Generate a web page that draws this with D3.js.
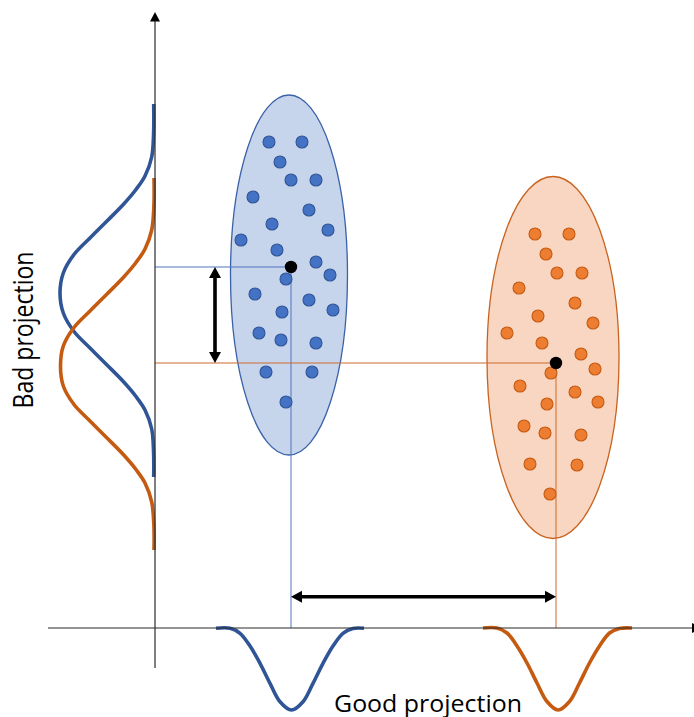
<!DOCTYPE html>
<html>
<head>
<meta charset="utf-8">
<script src="https://cdn.jsdelivr.net/npm/d3@7"></script>
<style>
  html, body { margin: 0; padding: 0; background: #ffffff; }
  svg { display: block; }
</style>
</head>
<body>
<script>
// ---------- DATA (chart units: origin at the axes crossing) ----------
const blueX = [11.4, 14.7, 12.5, 13.6, 16.1, 9.8, 15.4, 11.7, 17.3, 8.6, 12.2, 16.1,
               17.5, 13.1, 10.0, 15.4, 12.7, 17.8, 10.4, 12.6, 16.1, 11.1, 15.7, 13.1];
const blueY = [48.6, 48.6, 46.6, 44.8, 44.8, 43.1, 41.8, 40.4, 39.8, 38.8, 37.8, 36.6,
               35.3, 34.9, 33.4, 32.8, 31.6, 31.8, 29.5, 28.8, 28.5, 25.6, 25.6, 22.6];
const orangeX = [38.0, 41.4, 39.1, 40.2, 42.7, 36.4, 42.0, 38.3, 43.8, 35.2, 38.7, 42.6,
                 44.0, 39.6, 36.5, 42.0, 39.2, 44.3, 36.9, 39.0, 42.6, 37.5, 42.2, 39.5];
const orangeY = [39.4, 39.4, 37.4, 35.5, 35.5, 34.0, 32.5, 31.2, 30.5, 29.5, 28.5, 27.4,
                 25.9, 25.5, 24.2, 23.6, 22.4, 22.6, 20.2, 19.5, 19.3, 16.4, 16.3, 13.4];
const classNames = ["blue", "orange"];
const meanX = [13.6, 40.1];
const meanY = [36.1, 26.5];
// class ellipses: centre and half-spreads
const ellipseCX = [13.4, 39.8];
const ellipseCY = [35.3, 27.05];
const ellipseRX = [5.85, 6.6];
const ellipseRY = [18.0, 18.1];

// projected density on the vertical ("bad") axis: y position, density
const blueLeftY = [52.4, 49.5, 47.1, 45.2, 43.85, 42.35, 40.65, 39.0, 37.35, 35.5, 33.5,
                   31.5, 29.65, 28.0, 26.35, 24.65, 23.15, 21.8, 19.9, 17.5, 15.1];
const blueLeftD = [0.13, 0.14, 0.33, 1.0, 1.9, 3.17, 4.85, 6.5, 8.1, 9.17, 9.5,
                   9.17, 8.1, 6.5, 4.85, 3.17, 1.9, 1.0, 0.33, 0.14, 0.13];
const orangeLeftY = [45.0, 42.2, 39.8, 37.9, 36.55, 35.05, 33.35, 31.7, 30.05, 28.2, 26.2,
                     24.2, 22.35, 20.7, 19.05, 17.35, 15.85, 14.5, 12.6, 10.2, 7.8];
const orangeLeftD = [0.1, 0.11, 0.33, 1.0, 1.9, 3.17, 4.85, 6.5, 8.1, 9.17, 9.45,
                     9.17, 8.1, 6.5, 4.85, 3.17, 1.9, 1.0, 0.33, 0.11, 0.1];
// projected density on the horizontal ("good") axis: x position, density
const blueBottomX = [6.1, 7.5, 8.5, 9.5, 10.5, 11.5, 12.5, 13.65, 14.8, 15.8, 16.8, 17.8, 18.8, 19.8, 20.9];
const blueBottomD = [0.03, 0.03, 0.53, 1.8, 3.53, 5.53, 7.37, 8.2, 7.37, 5.53, 3.53, 1.8, 0.53, 0.05, 0.03];
const orangeBottomX = [32.8, 34.2, 35.2, 36.2, 37.2, 38.2, 39.2, 40.3, 41.45, 42.45, 43.45, 44.45, 45.45, 46.45, 47.7];
const orangeBottomD = [0.0, 0.0, 0.5, 1.8, 3.5, 5.5, 7.35, 8.2, 7.35, 5.5, 3.5, 1.8, 0.5, 0.05, 0.0];

const axisXRange = [-10.7, 54.65];
const axisYRange = [-4, 61.6];
const labelGood = "Good projection";
const labelBad = "Bad projection";

// ---------- STYLE ----------
const W = 694, H = 717;
const fillDot = ["#4472C4", "#ED7D31"];
const strokeDot = ["#2F5597", "#C55A11"];
const fillEll = ["#C6D4EC", "#F9D6C1"];
const strokeEll = ["#3A62A8", "#C9621E"];
const curveCol = ["#2F5597", "#C55A11"];
const guideCol = ["#4F76BE", "#CC6A2E"];

const x = d3.scaleLinear().domain([0, 50]).range([155, 655]);
const y = d3.scaleLinear().domain([0, 60]).range([628, 28]);

const svg = d3.select("body").append("svg").attr("width", W).attr("height", H);

// ellipses
classNames.forEach((c, i) => {
  svg.append("ellipse")
    .attr("cx", x(ellipseCX[i])).attr("cy", y(ellipseCY[i]))
    .attr("rx", x(ellipseCX[i] + ellipseRX[i]) - x(ellipseCX[i]))
    .attr("ry", y(ellipseCY[i]) - y(ellipseCY[i] + ellipseRY[i]))
    .attr("fill", fillEll[i]).attr("stroke", strokeEll[i]).attr("stroke-width", 1.3);
});

// guide lines from means to the axes
classNames.forEach((c, i) => {
  svg.append("line")
    .attr("x1", x(0)).attr("x2", x(meanX[i]))
    .attr("y1", y(meanY[i])).attr("y2", y(meanY[i]))
    .attr("stroke", guideCol[i]).attr("stroke-width", 1);
  svg.append("line")
    .attr("x1", x(meanX[i])).attr("x2", x(meanX[i]))
    .attr("y1", y(meanY[i])).attr("y2", y(0))
    .attr("stroke", guideCol[i]).attr("stroke-width", 1);
});

// points
const pts = [d3.zip(blueX, blueY), d3.zip(orangeX, orangeY)];
pts.forEach((p, i) => {
  svg.append("g").selectAll("circle").data(p).join("circle")
    .attr("cx", d => x(d[0])).attr("cy", d => y(d[1])).attr("r", 6)
    .attr("fill", fillDot[i]).attr("stroke", strokeDot[i]).attr("stroke-width", 1.1);
});

// means
classNames.forEach((c, i) => {
  svg.append("circle").attr("cx", x(meanX[i])).attr("cy", y(meanY[i])).attr("r", 6.2).attr("fill", "#000");
});

// density curves
const lineV = d3.line().x(d => x(-d[1])).y(d => y(d[0])).curve(d3.curveCatmullRom.alpha(0.5));
const lineH = d3.line().x(d => x(d[0])).y(d => y(-d[1])).curve(d3.curveCatmullRom.alpha(0.5));
const leftData = [d3.zip(blueLeftY, blueLeftD), d3.zip(orangeLeftY, orangeLeftD)];
const bottomData = [d3.zip(blueBottomX, blueBottomD), d3.zip(orangeBottomX, orangeBottomD)];
[0, 1].forEach(i => {
  svg.append("path").attr("d", lineV(leftData[i])).attr("fill", "none")
    .attr("stroke", curveCol[i]).attr("stroke-width", 3.6).attr("stroke-linecap", "butt");
  svg.append("path").attr("d", lineH(bottomData[i])).attr("fill", "none")
    .attr("stroke", curveCol[i]).attr("stroke-width", 3.6).attr("stroke-linecap", "butt");
});

// axes
const axisCol = "#2b2b2b";
svg.append("line").attr("x1", x(0)).attr("x2", x(0))
  .attr("y1", y(axisYRange[0])).attr("y2", y(axisYRange[1]) + 6)
  .attr("stroke", axisCol).attr("stroke-width", 1.2);
{
  const tx = x(0), ty = y(axisYRange[1]);
  svg.append("path").attr("d", `M${tx},${ty} L${tx - 5},${ty + 9.5} L${tx + 5},${ty + 9.5} Z`).attr("fill", "#000");
}
svg.append("line").attr("x1", x(axisXRange[0])).attr("x2", x(axisXRange[1]) - 6)
  .attr("y1", y(0)).attr("y2", y(0))
  .attr("stroke", axisCol).attr("stroke-width", 1.2);
{
  const tx = x(axisXRange[1]), ty = y(0);
  svg.append("path").attr("d", `M${tx},${ty} L${tx - 9.5},${ty - 5} L${tx - 9.5},${ty + 5} Z`).attr("fill", "#000");
}

// double-headed arrows between the means
function dblArrow(x1, y1, x2, y2) {
  const len = Math.hypot(x2 - x1, y2 - y1);
  const ux = (x2 - x1) / len, uy = (y2 - y1) / len;
  const hl = 11, hw = 6;
  svg.append("line")
    .attr("x1", x1 + ux * (hl - 1)).attr("y1", y1 + uy * (hl - 1))
    .attr("x2", x2 - ux * (hl - 1)).attr("y2", y2 - uy * (hl - 1))
    .attr("stroke", "#000").attr("stroke-width", 3.6);
  const head = (px, py, dx, dy) => {
    const bx = px - dx * hl, by = py - dy * hl;
    return `M${px},${py} L${bx - dy * hw},${by + dx * hw} L${bx + dy * hw},${by - dx * hw} Z`;
  };
  svg.append("path").attr("d", head(x2, y2, ux, uy)).attr("fill", "#000");
  svg.append("path").attr("d", head(x1, y1, -ux, -uy)).attr("fill", "#000");
}
const arrowVX = 6.0, arrowHY = 3.13;
dblArrow(x(arrowVX), y(meanY[0]), x(arrowVX), y(meanY[1]));
dblArrow(x(meanX[0]), y(arrowHY), x(meanX[1]), y(arrowHY));

// labels
svg.append("text")
  .attr("x", 334).attr("y", 711.5)
  .attr("font-family", "'Open Sans', sans-serif").attr("font-size", 23.5)
  .attr("fill", "#000")
  .attr("textLength", 188).attr("lengthAdjust", "spacingAndGlyphs")
  .text(labelGood);
svg.append("text")
  .attr("transform", "translate(33.3,408.5) rotate(-90)")
  .attr("x", 0).attr("y", 0)
  .attr("font-family", "'Open Sans', sans-serif").attr("font-size", 27)
  .attr("fill", "#000")
  .attr("textLength", 157).attr("lengthAdjust", "spacingAndGlyphs")
  .text(labelBad);
</script>
</body>
</html>
